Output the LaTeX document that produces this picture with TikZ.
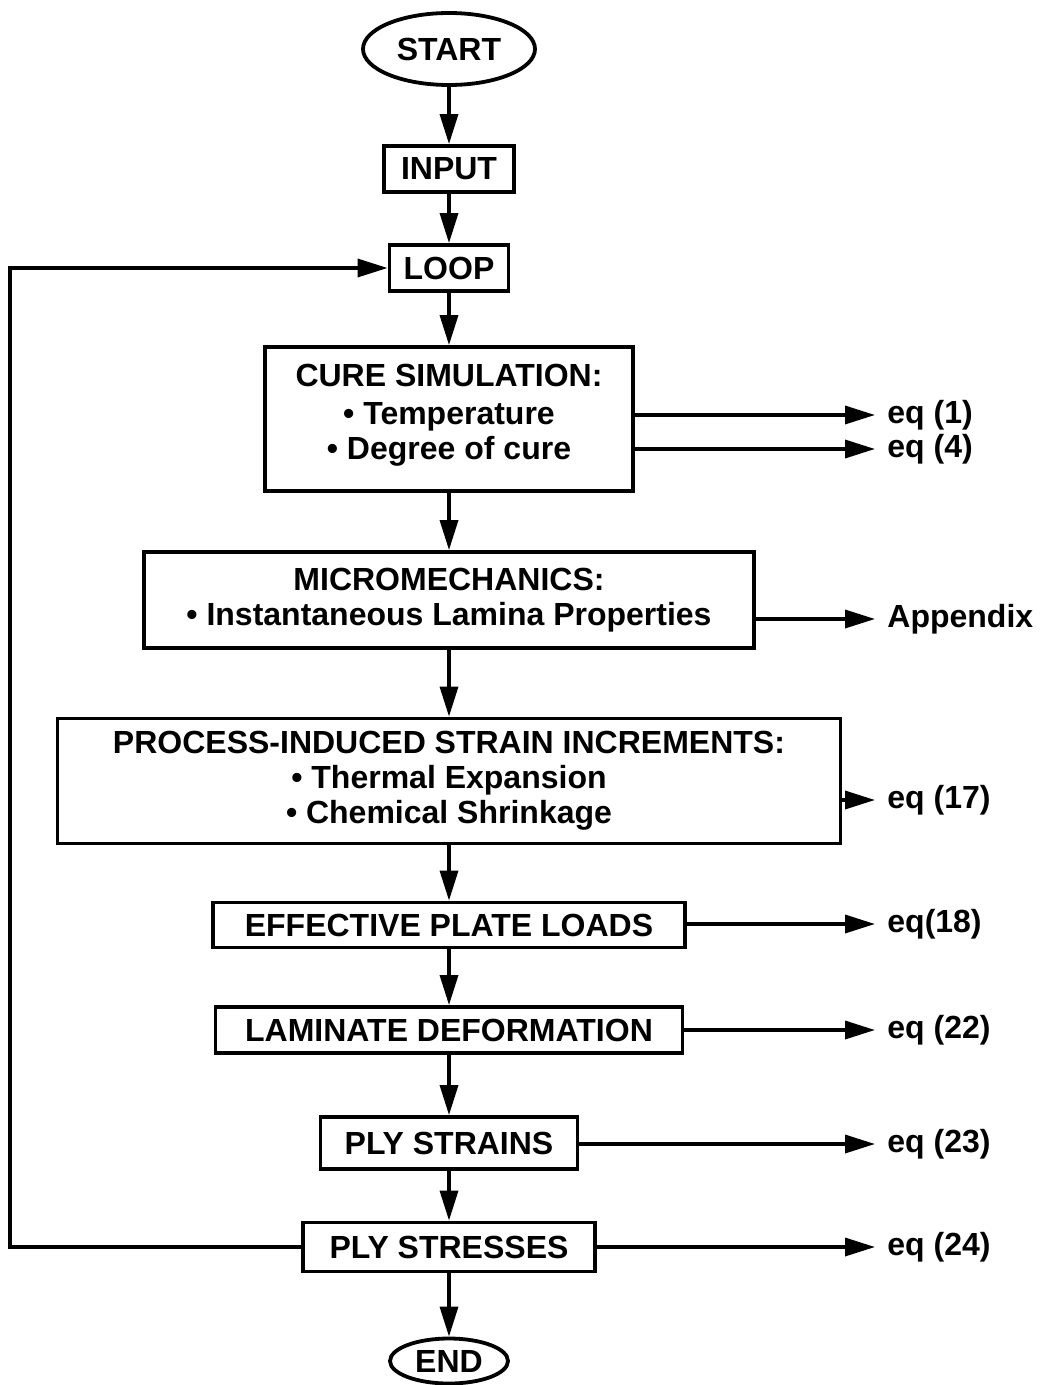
\documentclass[tikz,border=0pt]{standalone}
\usepackage{fontspec}
\setmainfont{Liberation Sans}
\usetikzlibrary{arrows.meta,shapes.geometric}
\begin{document}
\begin{tikzpicture}[x=0.5pt,y=-0.5pt,
  txt/.style={font=\fontsize{16}{17.5}\selectfont\bfseries},
  box/.style={txt, draw, line width=1.9pt, rectangle, inner sep=0pt, align=center},
  oval/.style={txt, draw, line width=1.9pt, ellipse, inner sep=0pt},
  lab/.style={txt, anchor=west, inner sep=0pt},
  arr/.style={line width=1.7pt, -{Triangle[length=15pt,width=9pt]}},
  rarr/.style={arr, shorten >=6pt}]
\useasboundingbox (0,0) rectangle (1042,1385);

\node[oval, minimum width=86pt, minimum height=36pt] (start) at (449,49) {START};
\node[box, minimum width=65pt, minimum height=23pt] (input) at (449,169) {INPUT};
\node[box, minimum width=59.5pt, minimum height=23pt] (loop) at (449,268) {LOOP};
\node[box, minimum width=184pt, minimum height=72pt] (cure) at (449,419) {CURE SIMULATION:\\[1.5pt] • Temperature\\ • Degree of cure\\[-10.5pt]};
\node[box, minimum width=305pt, minimum height=48pt] (micro) at (449,600) {MICROMECHANICS:\\ • Instantaneous Lamina Properties};
\node[box, minimum width=391.5pt, minimum height=62.5pt] (proc) at (449,781) {PROCESS-INDUCED STRAIN INCREMENTS:\\ • Thermal Expansion\\ • Chemical Shrinkage};
\node[box, minimum width=236pt, minimum height=22.5pt] (eff) at (449,925) {EFFECTIVE PLATE LOADS};
\node[box, minimum width=233.5pt, minimum height=23pt] (lam) at (449,1030) {LAMINATE DEFORMATION};
\node[box, minimum width=128.5pt, minimum height=26pt] (strains) at (449,1143) {PLY STRAINS};
\node[box, minimum width=146pt, minimum height=24.5pt] (stresses) at (449,1247) {PLY STRESSES};
\node[oval, minimum width=59pt, minimum height=22.5pt] (end) at (449,1361) {END};

\node[lab] (eq1) at (887,415) {eq (1)};
\node[lab] (eq4) at (887,449) {eq (4)};
\node[lab] (app) at (887,619) {Appendix};
\node[lab] (eq17) at (887,800) {eq (17)};
\node[lab] (eq18) at (887,924) {eq(18)};
\node[lab] (eq22) at (887,1030) {eq (22)};
\node[lab] (eq23) at (887,1144) {eq (23)};
\node[lab] (eq24) at (887,1247) {eq (24)};

\draw[arr] (start) -- (input);
\draw[arr] (input) -- (loop);
\draw[arr] (loop) -- (cure);
\draw[arr] (cure) -- (micro);
\draw[arr] (micro) -- (proc);
\draw[arr] (proc) -- (eff);
\draw[arr] (eff) -- (lam);
\draw[arr] (lam) -- (strains);
\draw[arr] (strains) -- (stresses);
\draw[arr] (stresses) -- (end);

\draw[rarr] (cure.east |- eq1.west) -- (eq1.west);
\draw[rarr] (cure.east |- eq4.west) -- (eq4.west);
\draw[rarr] (micro.east |- app.west) -- (app.west);
\draw[rarr] (proc.east |- eq17.west) -- (eq17.west);
\draw[rarr] (eff.east |- eq18.west) -- (eq18.west);
\draw[rarr] (lam.east |- eq22.west) -- (eq22.west);
\draw[rarr] (strains.east |- eq23.west) -- (eq23.west);
\draw[rarr] (stresses.east |- eq24.west) -- (eq24.west);

\coordinate (lc) at (10,1247);
\draw[arr] (stresses.west) -- (lc) |- (loop.west);
\end{tikzpicture}
\end{document}
